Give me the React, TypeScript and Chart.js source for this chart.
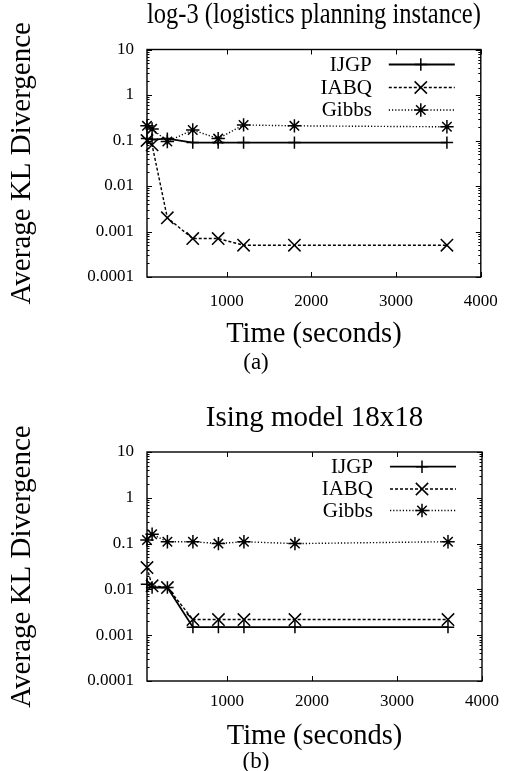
import React, { useEffect, useRef } from 'react';
import { Chart, registerables } from 'chart.js';

Chart.register(...registerables);

// ---------- data ----------
const timeSeconds = [60, 120, 300, 600, 900, 1200, 1800, 3600];
const seriesNames = ['IJGP', 'IABQ', 'Gibbs'];

const log3IJGP = [0.11, 0.105, 0.11, 0.09, 0.09, 0.09, 0.09, 0.09];
const log3IABQ = [0.1, 0.08, 0.002, 0.0007, 0.0007, 0.0005, 0.0005, 0.0005];
const log3Gibbs = [0.21, 0.18, 0.095, 0.17, 0.11, 0.22, 0.21, 0.2];

const isingIJGP = [0.013, 0.011, 0.011, 0.0015, 0.0015, 0.0015, 0.0015, 0.0015];
const isingIABQ = [0.03, 0.012, 0.011, 0.0022, 0.0022, 0.0022, 0.0022, 0.0022];
const isingGibbs = [0.12, 0.16, 0.11, 0.11, 0.1, 0.11, 0.1, 0.11];

const xTickValues = [1000, 2000, 3000, 4000];
const xTickLabels = ['1000', '2000', '3000', '4000'];
const yTickValues = [0.0001, 0.001, 0.01, 0.1, 1, 10];
const yTickLabels = ['0.0001', '0.001', '0.01', '0.1', '1', '10'];
const xMin = 60;
const xMax = 4000;
const yMin = 0.0001;
const yMax = 10;

const titleA = 'log-3 (logistics planning instance)';
const titleB = 'Ising model 18x18';
const captionA = '(a)';
const captionB = '(b)';
const yAxisTitle = 'Average KL Divergence';
const xAxisTitle = 'Time (seconds)';

// ---------- styles ----------
const FONT = 'Liberation Serif';
const seriesStyles = [
  { dash: [] as number[], width: 1.8, point: 'cross', radius: 6.2 },
  { dash: [3, 2], width: 1.4, point: 'crossRot', radius: 8.7 },
  { dash: [1.2, 2], width: 1.4, point: 'star', radius: 6.7 },
];

type Layout = {
  height: number;
  titleSize: number;
  titleTop: number;
  titleBottom: number;
  capBottom: number;
  xHeight: number;
  xTickPad: number;
  xTitleBottom: number;
  legendRows: number[];
};

function drawMarker(ctx: CanvasRenderingContext2D, style: string, x: number, y: number, r: number) {
  ctx.beginPath();
  if (style === 'cross' || style === 'star') {
    ctx.moveTo(x - r, y);
    ctx.lineTo(x + r, y);
    ctx.moveTo(x, y - r);
    ctx.lineTo(x, y + r);
  }
  if (style === 'crossRot' || style === 'star') {
    const d = r * Math.SQRT1_2;
    ctx.moveTo(x - d, y - d);
    ctx.lineTo(x + d, y + d);
    ctx.moveTo(x + d, y - d);
    ctx.lineTo(x - d, y + d);
  }
  ctx.stroke();
}

function makeFramePlugin(layout: Layout) {
  return {
    id: 'gnuplotFrame',
    beforeDatasetsDraw(chart: any) {
      const ctx: CanvasRenderingContext2D = chart.ctx;
      const { left, right, top, bottom } = chart.chartArea;
      const xs = chart.scales.x;
      const ys = chart.scales.y;
      ctx.save();
      ctx.strokeStyle = '#000';
      ctx.lineWidth = 1.4;
      ctx.setLineDash([]);
      ctx.strokeRect(left, top, right - left, bottom - top);
      ctx.lineWidth = 1;
      ctx.beginPath();
      xTickValues.forEach((v) => {
        const px = Math.round(xs.getPixelForValue(v)) + 0.5;
        ctx.moveTo(px, bottom);
        ctx.lineTo(px, bottom - 5);
        ctx.moveTo(px, top);
        ctx.lineTo(px, top + 5);
      });
      yTickValues.forEach((v, i) => {
        const py = Math.round(ys.getPixelForValue(v)) + 0.5;
        ctx.moveTo(left, py);
        ctx.lineTo(left + 5, py);
        ctx.moveTo(right, py);
        ctx.lineTo(right - 5, py);
        if (i < yTickValues.length - 1) {
          for (let m = 2; m <= 9; m++) {
            const pm = Math.round(ys.getPixelForValue(v * m)) + 0.5;
            ctx.moveTo(left, pm);
            ctx.lineTo(left + 2.5, pm);
            ctx.moveTo(right, pm);
            ctx.lineTo(right - 2.5, pm);
          }
        }
      });
      ctx.stroke();
      ctx.restore();
    },
    afterDraw(chart: any) {
      const ctx: CanvasRenderingContext2D = chart.ctx;
      const { right, top } = chart.chartArea;
      ctx.save();
      ctx.fillStyle = '#000';
      ctx.strokeStyle = '#000';
      ctx.font = `21px "${FONT}"`;
      ctx.textAlign = 'right';
      ctx.textBaseline = 'middle';
      chart.data.datasets.forEach((ds: any, i: number) => {
        const y = top + layout.legendRows[i];
        ctx.fillText(ds.label, right - 109, y + 0.5);
        ctx.lineWidth = ds.borderWidth;
        ctx.setLineDash(ds.borderDash || []);
        ctx.beginPath();
        ctx.moveTo(right - 92, y);
        ctx.lineTo(right - 26, y);
        ctx.stroke();
        ctx.setLineDash([]);
        ctx.lineWidth = ds.pointBorderWidth;
        drawMarker(ctx, ds.pointStyle, right - 60, y, ds.pointRadius);
      });
      ctx.restore();
    },
  };
}

function KLChart({ title, caption, series, layout, top }: { title: string; caption: string; series: number[][]; layout: Layout; top: number }) {
  const ref = useRef<HTMLCanvasElement | null>(null);
  useEffect(() => {
    if (!ref.current) return;
    const datasets = series.map((vals, i) => {
      const st = seriesStyles[i];
      return {
        label: seriesNames[i],
        data: timeSeconds.map((t, j) => ({ x: t, y: vals[j] })),
        borderColor: '#000',
        borderWidth: st.width,
        borderDash: st.dash,
        pointStyle: st.point,
        pointRadius: st.radius,
        pointBorderColor: '#000',
        pointBackgroundColor: 'rgba(0,0,0,0)',
        pointBorderWidth: 1.5,
        tension: 0,
        fill: false,
        clip: false as any,
      };
    });
    const chart = new Chart(ref.current, {
      type: 'line',
      data: { datasets: datasets as any },
      options: {
        animation: false,
        responsive: false,
        events: [],
        layout: { padding: { left: 0, right: 0, top: 0, bottom: 0 } },
        plugins: {
          legend: { display: false },
          tooltip: { enabled: false },
          title: {
            display: true,
            text: title,
            fullSize: false,
            color: '#000',
            font: { family: FONT, size: layout.titleSize, weight: 'normal', lineHeight: 0.7 },
            padding: { top: layout.titleTop, bottom: layout.titleBottom },
          },
          subtitle: {
            display: true,
            text: caption,
            position: 'bottom',
            color: '#000',
            font: { family: FONT, size: 23, weight: 'normal', lineHeight: 0.8 },
            padding: { top: 0, bottom: layout.capBottom },
          },
        },
        scales: {
          x: {
            type: 'linear',
            min: xMin,
            max: xMax,
            afterBuildTicks: (s: any) => {
              s.ticks = xTickValues.map((v) => ({ value: v }));
            },
            afterFit: (s: any) => {
              s.height = layout.xHeight;
            },
            grid: { display: false, drawTicks: false },
            border: { display: false },
            ticks: {
              color: '#000',
              font: { family: FONT, size: 17 },
              padding: layout.xTickPad,
              maxRotation: 0,
              autoSkip: false,
              callback: (_v: any, i: number) => xTickLabels[i],
            },
            title: {
              display: true,
              text: xAxisTitle,
              color: '#000',
              font: { family: FONT, size: 28.5, lineHeight: 1 },
              padding: { top: 0, bottom: layout.xTitleBottom },
            },
          },
          y: {
            type: 'logarithmic',
            min: yMin,
            max: yMax,
            afterBuildTicks: (s: any) => {
              s.ticks = yTickValues.map((v) => ({ value: v }));
            },
            afterFit: (s: any) => {
              s.width = 147;
            },
            grid: { display: false, drawTicks: false },
            border: { display: false },
            ticks: {
              color: '#000',
              font: { family: FONT, size: 17 },
              padding: 13,
              autoSkip: false,
              callback: (_v: any, i: number) => yTickLabels[i],
            },
            title: {
              display: true,
              text: yAxisTitle,
              color: '#000',
              font: { family: FONT, size: 29, lineHeight: 1 },
              padding: { top: 7.5, bottom: 0 },
            },
          },
          yr: {
            type: 'linear',
            position: 'right',
            display: true,
            afterFit: (s: any) => {
              s.width = 30;
            },
            grid: { display: false, drawTicks: false },
            border: { display: false },
            ticks: { display: false },
          },
        },
      } as any,
      plugins: [makeFramePlugin(layout)],
    });
    return () => chart.destroy();
  }, []);
  return (
    <canvas
      ref={ref}
      width={512}
      height={layout.height}
      style={{ position: 'absolute', left: 0, top, width: 512, height: layout.height, display: 'block' }}
    />
  );
}

const layoutA: Layout = {
  height: 385,
  titleSize: 30,
  titleTop: 4.4,
  titleBottom: 24.1,
  capBottom: 12.5,
  xHeight: 77.1,
  xTickPad: 14.2,
  xTitleBottom: 5.1,
  legendRows: [15, 38, 60.5],
};

const layoutB: Layout = {
  height: 386,
  titleSize: 29,
  titleTop: 23.05,
  titleBottom: 23.65,
  capBottom: 0,
  xHeight: 71.6,
  xTickPad: 10.6,
  xTitleBottom: 2.1,
  legendRows: [14.7, 37, 58.5],
};

export default function App() {
  return (
    <div style={{ position: 'absolute', left: 0, top: 0, width: 512, height: 771, background: '#fff' }}>
      <KLChart title={titleA} caption={captionA} series={[log3IJGP, log3IABQ, log3Gibbs]} layout={layoutA} top={0} />
      <KLChart title={titleB} caption={captionB} series={[isingIJGP, isingIABQ, isingGibbs]} layout={layoutB} top={385} />
    </div>
  );
}
